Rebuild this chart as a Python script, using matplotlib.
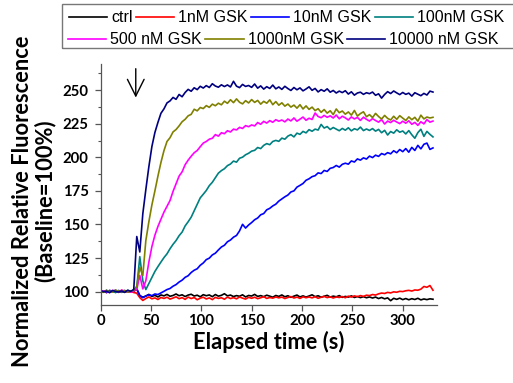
import matplotlib

matplotlib.use("Agg")

import numpy as np
import matplotlib.pyplot as plt
from matplotlib.patches import Rectangle
from matplotlib.ticker import MultipleLocator

# time axis: one reading every 3 s
time_s = np.arange(0, 331, 3)

ctrl = [
    100.5, 99.8, 100.9, 99.6, 100.2, 101.0, 99.4, 100.3, 100.8, 99.9,
    100.6, 100.1, 101.8, 97.0, 95.8, 96.6, 97.9, 96.4, 97.2, 96.0,
    97.5, 96.8, 97.9, 96.5, 97.1, 98.2, 96.9, 97.6, 96.3, 97.4,
    98.0, 96.7, 97.3, 96.1, 97.7, 96.9, 97.5, 96.2, 97.8, 96.6,
    97.2, 98.4, 96.8, 97.4, 96.3, 97.0, 96.5, 97.6, 96.0, 97.1,
    96.7, 97.9, 96.4, 97.0, 96.2, 97.3, 96.6, 95.8, 97.1, 96.4,
    97.5, 96.1, 96.9, 95.7, 96.6, 97.4, 96.0, 96.8, 95.9, 96.7,
    97.6, 96.2, 96.9, 95.8, 96.5, 97.2, 95.9, 96.6, 96.1, 97.0,
    95.7, 96.4, 95.9, 96.8, 95.6, 96.3, 95.5, 96.2, 95.4, 96.0,
    95.2, 95.9, 94.8, 95.6, 94.6, 95.3, 93.2, 95.0, 94.2, 95.1,
    94.0, 94.8, 93.9, 94.7, 94.1, 95.0, 93.8, 94.5, 94.0, 94.6,
    94.3,
]
gsk_1 = [
    99.6, 100.4, 99.2, 100.7, 99.9, 100.3, 99.5, 101.0, 100.2, 99.7,
    100.1, 99.3, 98.8, 95.5, 93.4, 94.8, 96.0, 94.6, 95.3, 94.1,
    95.6, 94.9, 95.8, 94.4, 95.2, 96.1, 94.7, 95.5, 94.2, 95.9,
    94.8, 95.6, 93.9, 95.1, 95.8, 94.5, 95.3, 94.0, 95.7, 94.9,
    95.4, 94.3, 95.9, 94.8, 95.5, 94.6, 96.0, 95.1, 94.4, 95.7,
    95.0, 95.8, 94.7, 95.4, 96.2, 94.9, 95.6, 95.1, 96.0, 95.3,
    95.9, 94.8, 95.6, 96.3, 95.2, 95.9, 94.9, 96.1, 95.4, 96.0,
    95.3, 96.2, 95.0, 95.8, 96.4, 95.5, 96.1, 95.2, 96.0, 95.6,
    96.3, 95.4, 96.6, 95.9, 96.8, 96.2, 97.0, 96.4, 97.3, 97.0,
    97.8, 97.4, 98.3, 98.9, 98.6, 99.4, 99.0, 99.8, 99.5, 100.2,
    100.0, 100.6, 100.9, 100.4, 101.2, 101.0, 101.8, 103.8, 103.2, 104.5,
    101.0,
]
gsk_10 = [
    99.8, 100.6, 99.3, 100.9, 100.2, 99.6, 100.8, 99.4, 100.5, 100.0,
    99.7, 101.2, 102.0, 97.0, 95.4, 96.8, 97.5, 97.0, 98.2, 97.8,
    99.0, 100.2, 101.5, 102.3, 104.0, 105.2, 107.1, 108.5, 110.6, 111.8,
    114.2, 115.9, 117.0, 119.6, 121.3, 123.8, 124.9, 127.3, 128.6, 131.0,
    133.2, 134.5, 137.1, 138.4, 140.5, 141.8, 145.2, 150.1, 147.3, 149.6,
    151.4, 153.5, 154.8, 157.2, 158.1, 160.9, 162.0, 163.8, 165.1, 167.4,
    169.0, 170.6, 171.9, 174.2, 175.0, 177.8, 179.1, 180.5, 182.9, 184.0,
    185.6, 186.3, 188.4, 187.9, 190.2, 189.5, 191.8, 192.4, 193.9, 192.7,
    194.8, 195.6, 194.9, 197.3, 196.5, 198.8, 197.9, 199.6, 198.7, 200.9,
    199.8, 201.6, 200.7, 202.8, 201.9, 203.5, 202.6, 204.9, 203.4, 205.8,
    204.2, 206.5, 203.8, 207.4, 205.1, 208.9, 206.3, 209.7, 210.6, 205.9,
    207.0,
]
gsk_100 = [
    100.3, 99.6, 100.8, 99.9, 100.5, 99.2, 100.7, 100.1, 99.5, 100.9,
    100.2, 101.0, 103.0, 126.0, 108.0, 101.5, 106.0, 110.5, 115.0, 118.6,
    122.0, 125.3, 128.1, 131.9, 135.2, 138.0, 141.6, 144.3, 148.9, 152.0,
    155.4, 160.2, 165.0, 169.8, 172.5, 175.3, 178.9, 181.4, 184.8, 188.2,
    190.1, 191.5, 193.8, 195.0, 197.2, 196.4, 199.3, 200.1, 201.9, 203.0,
    204.6, 205.2, 207.3, 206.5, 208.9, 210.2, 209.4, 211.8, 212.6, 211.9,
    214.3, 213.5, 215.8, 216.9, 215.2, 218.0, 217.1, 219.3, 218.2, 220.6,
    219.4, 221.0, 220.3, 224.5, 221.8, 222.9, 220.7, 222.2, 221.0, 219.8,
    221.5, 220.2, 222.0, 219.7, 221.3, 220.4, 222.5, 219.9, 221.1, 220.0,
    221.4, 219.5, 220.8, 218.3, 220.1, 216.6, 219.2, 218.0, 220.5, 218.7,
    219.6, 217.4, 219.9, 216.8, 214.2, 218.4, 220.9, 215.6, 219.3, 217.1,
    215.2,
]
gsk_500 = [
    99.5, 100.6, 100.1, 99.3, 100.9, 100.4, 99.7, 101.1, 99.8, 100.3,
    99.6, 100.4, 101.5, 112.0, 102.0, 108.0, 122.0, 133.5, 142.0, 148.5,
    153.9, 159.2, 163.5, 167.8, 174.6, 180.3, 186.0, 189.2, 194.5, 197.9,
    200.8, 203.4, 205.1, 207.9, 210.6, 211.8, 213.5, 214.2, 216.9, 215.8,
    218.3, 217.6, 219.8, 218.9, 221.0, 220.4, 222.3, 221.5, 223.6, 222.8,
    224.1, 223.4, 225.9, 224.6, 226.8, 225.5, 227.3, 226.1, 228.0, 226.9,
    227.8, 226.4, 228.5, 227.1, 229.3, 226.9, 228.4, 230.0, 227.6, 229.1,
    228.2, 233.0, 230.4, 229.5, 231.2, 229.8, 230.9, 229.3, 231.5, 228.7,
    230.6, 229.4, 227.8, 230.1, 228.6, 229.7, 227.5, 229.9, 228.3, 227.0,
    228.8, 227.4, 226.2, 228.1, 224.8, 227.0, 225.9, 227.6, 226.3, 225.1,
    226.9, 225.4, 227.2, 224.6, 226.0, 223.8, 226.5, 224.9, 228.1, 226.2,
    227.0,
]
gsk_1000 = [
    100.2, 99.4, 100.8, 100.0, 99.6, 101.0, 100.3, 99.8, 100.6, 99.5,
    100.4, 100.9, 104.0, 118.0, 112.0, 138.0, 152.0, 164.5, 175.0, 186.0,
    196.2, 205.0, 211.8, 214.6, 218.9, 220.7, 223.4, 226.5, 228.3, 230.9,
    232.0, 235.8, 234.6, 237.1, 236.3, 238.5, 237.2, 239.6, 238.4, 240.3,
    239.1, 241.8, 240.2, 242.9, 240.7, 243.5, 241.0, 239.8, 242.2, 240.5,
    243.0, 240.9, 242.4, 239.6, 241.7, 240.3, 242.8, 239.2, 241.5, 238.8,
    240.6, 238.1, 239.7, 237.4, 238.9, 236.6, 239.2, 236.0, 238.3, 235.7,
    237.4, 234.8, 236.2, 233.5, 235.6, 232.9, 234.7, 231.8, 236.0, 233.2,
    234.5, 232.1, 233.8, 231.4, 234.9, 230.7, 232.6, 233.9, 230.2, 231.8,
    229.6, 232.7, 230.4, 228.5, 231.2, 229.0, 227.8, 230.6, 228.3, 231.0,
    229.2, 227.4, 230.1, 228.0, 229.8, 226.9, 231.4, 228.6, 230.0, 229.3,
    229.8,
]
gsk_10000 = [
    100.6, 99.9, 100.3, 99.2, 100.8, 100.1, 99.7, 100.5, 99.4, 101.0,
    100.2, 101.5, 141.0, 129.5, 158.0, 176.0, 193.0, 208.0, 218.5, 226.0,
    232.8, 236.1, 240.5, 242.0, 244.6, 243.2, 246.8, 245.1, 248.3, 250.6,
    249.2, 251.8, 250.4, 252.9, 251.6, 253.4, 252.0, 254.8, 253.1, 252.2,
    254.0, 252.7, 253.9, 252.4, 256.6, 253.0, 251.9, 254.3, 252.8, 253.5,
    252.1, 254.6, 251.5, 253.2, 250.8, 252.6, 251.3, 253.8, 251.0, 252.4,
    250.6, 252.9, 251.2, 249.8, 252.0, 250.3, 251.7, 249.5, 250.9, 252.5,
    249.9, 251.3, 248.7, 250.4, 249.2, 251.0, 248.5, 249.8, 247.9, 249.3,
    248.2, 249.6, 247.1, 248.8, 246.3, 247.9, 248.5, 246.9, 248.1, 247.4,
    248.6, 246.2, 247.3, 244.1, 246.8, 248.9, 247.5, 249.4, 248.0, 246.7,
    248.3, 246.9, 247.8, 245.6, 248.1, 247.0, 245.9, 247.6, 246.4, 249.3,
    248.6,
]

series_labels = ["ctrl", "1nM GSK", "10nM GSK", "100nM GSK",
                 "500 nM GSK", "1000nM GSK", "10000 nM GSK"]
series_values = [ctrl, gsk_1, gsk_10, gsk_100, gsk_500, gsk_1000, gsk_10000]
series_colors = ["#000000", "#ff0000", "#0000ff", "#008080",
                 "#ff00ff", "#808000", "#000080"]

bold_font = "Lato"
legend_font = "Liberation Sans"

fig = plt.figure(figsize=(5.13, 3.83), dpi=100)
renderer = fig.canvas.get_renderer()


def fit_size(text, width_px, family, weight="normal"):
    # font size (pt) that makes `text` about width_px wide
    probe = fig.text(0, 0, text, fontsize=10, family=family, fontweight=weight)
    w = probe.get_window_extent(renderer).width
    probe.remove()
    return 10 * width_px / w


tick_fs = fit_size("250", 26, bold_font, "bold")
label_fs = fit_size("(Baseline=100%)", 163, bold_font, "bold")
legend_fs = fit_size("10nM GSK", 78, legend_font)

ax = fig.add_axes([100.5 / 513, 78 / 383, 336.5 / 513, 241 / 383])

handles = []
for vals, col, lab in zip(series_values, series_colors, series_labels):
    assert len(vals) == len(time_s), lab
    (ln,) = ax.plot(time_s, vals, color=col, lw=1.2, label=lab)
    handles.append(ln)

ax.set_xlim(0, 334)
ax.set_ylim(90, 269.5)
ax.xaxis.set_major_locator(MultipleLocator(50))
ax.yaxis.set_major_locator(MultipleLocator(25))
ax.yaxis.set_minor_locator(MultipleLocator(12.5))
for side in ("top", "right"):
    ax.spines[side].set_visible(False)
for side in ("left", "bottom"):
    ax.spines[side].set_color("#555555")
    ax.spines[side].set_linewidth(0.9)
ax.tick_params(axis="both", which="both", direction="out", color="#555555")
ax.tick_params(axis="both", which="major", length=4, width=0.9)
ax.tick_params(axis="x", which="major", pad=2.5)
ax.tick_params(axis="y", which="major", pad=4.5)
ax.tick_params(axis="y", which="minor", length=2.5, width=0.8)
for lbl in ax.get_xticklabels() + ax.get_yticklabels():
    lbl.set_fontfamily(bold_font)
    lbl.set_fontweight("bold")
    lbl.set_fontsize(tick_fs)

# addition marker
ax.annotate("", xy=(35, 244.5), xytext=(35, 266),
            arrowprops=dict(arrowstyle="->,head_length=1.2,head_width=0.6",
                            color="black", lw=1.0, shrinkA=0, shrinkB=0))

fig.text(268.5 / 513, 1 - 342 / 383, "Elapsed time (s)", ha="center", va="center",
         fontsize=label_fs, fontweight="bold", family=bold_font)
fig.text(33.5 / 513, 1 - 201 / 383,
         "Normalized Relative Fluorescence\n(Baseline=100%)",
         ha="center", va="center", rotation=90, fontsize=label_fs,
         fontweight="bold", family=bold_font, linespacing=1.05)

# two-row legend laid out like the original (flowing rows)
leg_kw = dict(frameon=False, borderaxespad=0, borderpad=0, handlelength=2.4,
              handletextpad=0.25, columnspacing=0.2,
              prop={"family": legend_font, "size": legend_fs})
fig.legend(handles[:4], series_labels[:4], loc="center left",
           bbox_to_anchor=(69 / 513, 1 - 18 / 383), ncol=4, **leg_kw)
fig.legend(handles[4:], series_labels[4:], loc="center left",
           bbox_to_anchor=(68 / 513, 1 - 40 / 383), ncol=3, **leg_kw)
fig.add_artist(Rectangle((62 / 513, 1 - 48 / 383), 0.9, 44 / 383,
                         transform=fig.transFigure, fill=False,
                         edgecolor="#777777", lw=1.0))

fig.savefig("out.png", dpi=100)
